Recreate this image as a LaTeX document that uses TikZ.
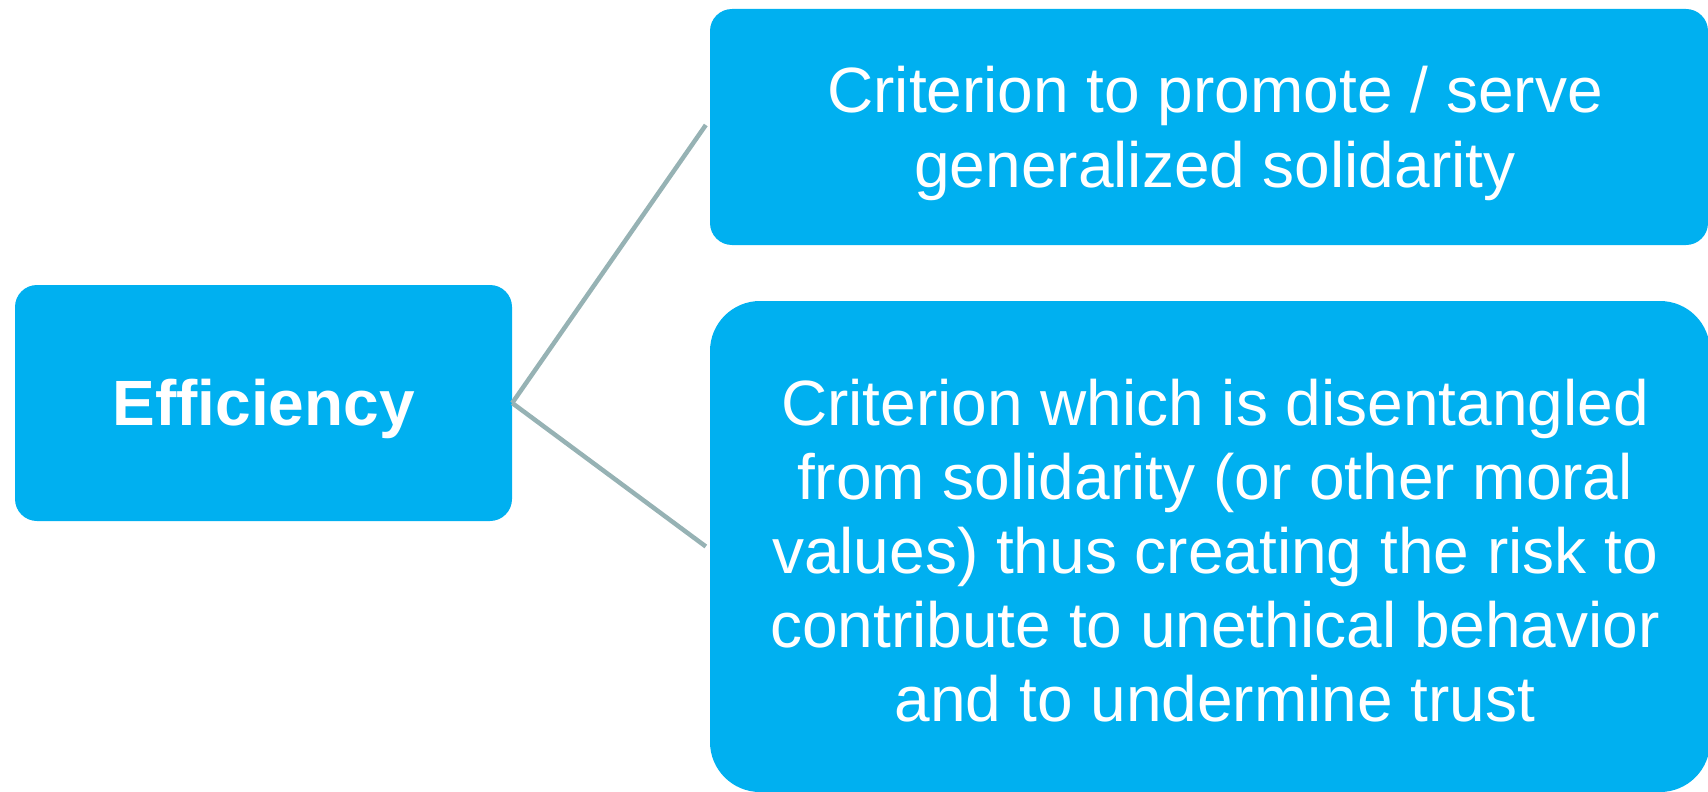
\documentclass[tikz,border=0pt]{standalone}
\usepackage{fontspec}
\setmainfont{Liberation Sans}
\definecolor{boxblue}{RGB}{0,176,240}
\definecolor{linkgray}{RGB}{150,178,180}
\tikzset{
  bluebox/.style={fill=boxblue, draw=none, inner sep=0pt},
  boxtext/.style={text=white, align=center, inner sep=0pt,
    font=\fontsize{64}{75}\selectfont},
  link/.style={draw=linkgray, line width=4.5pt}
}
\begin{document}
\begin{tikzpicture}[x=1pt,y=1pt]
\useasboundingbox (0,0) rectangle (1708,-792);
\node[bluebox, rounded corners=22pt, minimum width=497pt, minimum height=236pt] (eff) at (263.5,-403) {};
\node[boxtext, font=\fontsize{64}{75}\selectfont\bfseries] (efftext) at ([yshift=-6pt]eff.center) {Efficiency};
\node[bluebox, rounded corners=22pt, minimum width=998pt, minimum height=236pt] (top) at (1209,-127) {};
\node[boxtext] (toptext) at ([xshift=6pt,yshift=-6pt]top.center)
  {Criterion to promote / serve\\generalized solidarity};
\node[bluebox, rounded corners=50pt, minimum width=1000pt, minimum height=491pt] (bot) at (1210,-546.5) {};
\node[boxtext, font=\fontsize{64}{74}\selectfont] (bottext) at ([xshift=5pt,yshift=-4pt]bot.center)
  {Criterion which is disentangled\\from solidarity (or other moral\\values) thus creating the risk to\\contribute to unethical behavior\\and to undermine trust};
\coordinate (tend) at ([xshift=-4pt,yshift=2pt]top.west);
\coordinate (bend) at ([xshift=-4pt]bot.west);
\draw[link] (eff.east) -- (tend);
\draw[link] (eff.east) -- (bend);
\end{tikzpicture}
\end{document}
